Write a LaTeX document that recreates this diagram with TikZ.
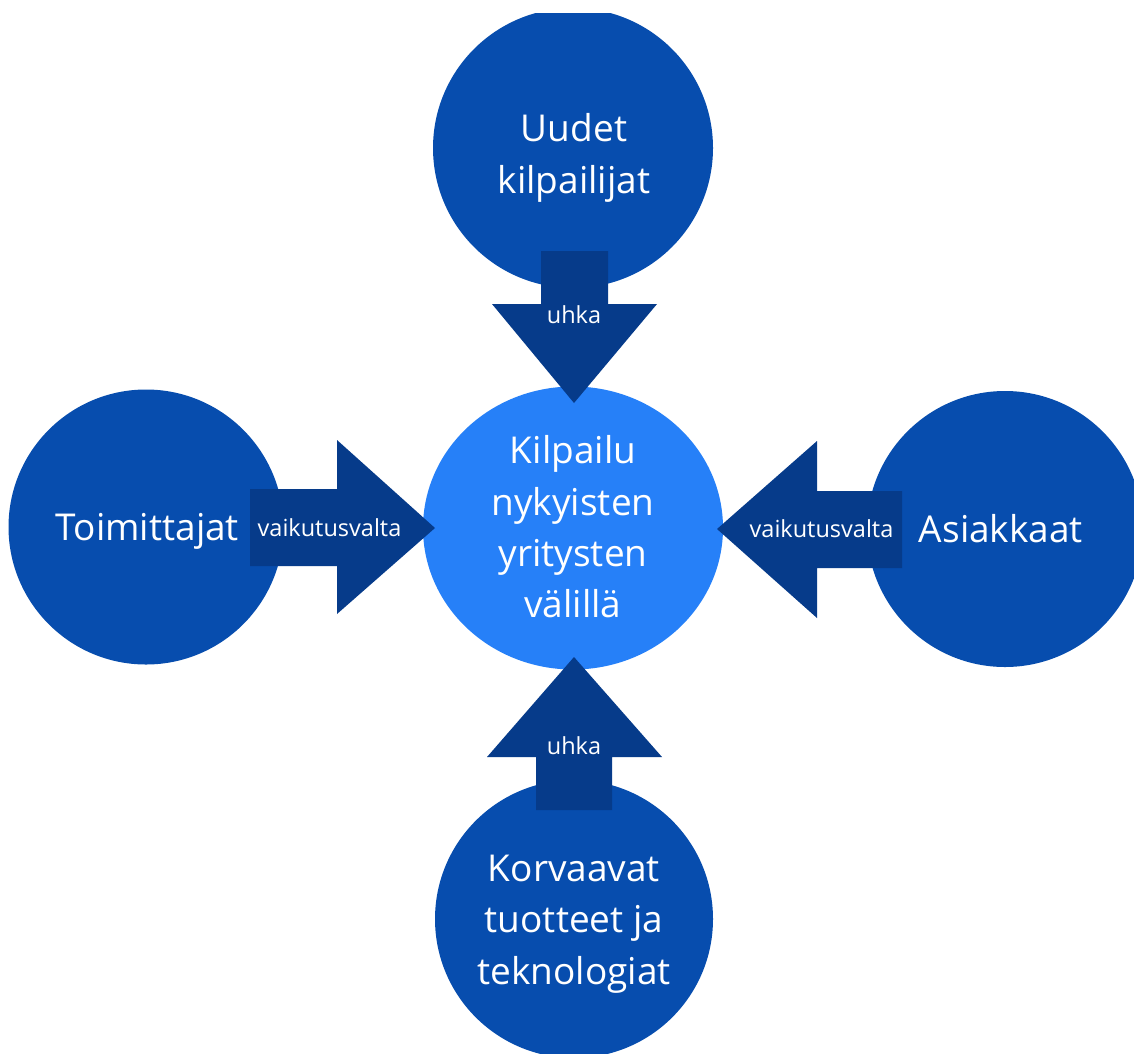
\documentclass[tikz,border=0pt]{standalone}
\usepackage{fontspec}
\setmainfont{Open Sans}
\usetikzlibrary{shapes.geometric}
\definecolor{outerblue}{HTML}{074DAE}
\definecolor{arrowblue}{HTML}{063B8A}
\definecolor{centerblue}{HTML}{2680F8}
\tikzset{
  outer/.style={circle, fill=outerblue, draw=none, inner sep=0pt},
  middle/.style={ellipse, fill=centerblue, draw=none, inner sep=0pt, minimum width=300pt, minimum height=283pt},
  blockarrow/.style={fill=arrowblue, draw=none},
  bigtext/.style={text=white, align=center, inner sep=0pt, font=\fontsize{37}{51.3}\selectfont},
  smalltext/.style={text=white, align=center, inner sep=0pt, font=\fontsize{23.5}{28}\selectfont},
}
\begin{document}
\begin{tikzpicture}[x=1pt,y=-1pt]
\useasboundingbox[fill=white] (0,0) rectangle (1134,1053);
\begin{scope}
\clip (0,13) rectangle (1134,1053);
% circles
\node[outer, minimum size=280pt] (top) at (573,148) {};
\node[outer, minimum size=275pt] (left) at (146,527) {};
\node[outer, minimum size=276pt] (right) at (1005,529) {};
\node[outer, minimum size=278pt] (bottom) at (574,919) {};
\node[middle] (center) at (573,528) {};
% block arrows
\fill[blockarrow] (541,251) -- (608,251) -- (608,304) -- (657,304) -- (574,403) -- (492,304) -- (541,304) -- cycle;
\fill[blockarrow] (536,810) -- (612,810) -- (612,757) -- (662,757) -- (574,657) -- (487,757) -- (536,757) -- cycle;
\fill[blockarrow] (250,489) -- (337,489) -- (337,440) -- (435,528) -- (337,614) -- (337,566) -- (250,566) -- cycle;
\fill[blockarrow] (902,491) -- (817,491) -- (817,441) -- (717,529) -- (817,618) -- (817,568) -- (902,568) -- cycle;
\end{scope}
% texts
\node[bigtext] (toptext) at (574,158) {Uudet\\kilpailijat};
\node[bigtext] (lefttext) at (147.5,531) {Toimittajat};
\node[bigtext] (righttext) at (1001,529) {Asiakkaat};
\node[bigtext] (bottomtext) at (574,924) {Korvaavat\\tuotteet ja\\teknologiat};
\node[bigtext] (centertext) at (573,527) {Kilpailu\\nykyisten\\yritysten\\välillä};
\node[smalltext] (toplabel) at (574,315) {uhka};
\node[smalltext] (bottomlabel) at (574,746) {uhka};
\node[smalltext] (leftlabel) at (329.5,528) {vaikutusvalta};
\node[smalltext] (rightlabel) at (821.5,529) {vaikutusvalta};
\end{tikzpicture}
\end{document}
